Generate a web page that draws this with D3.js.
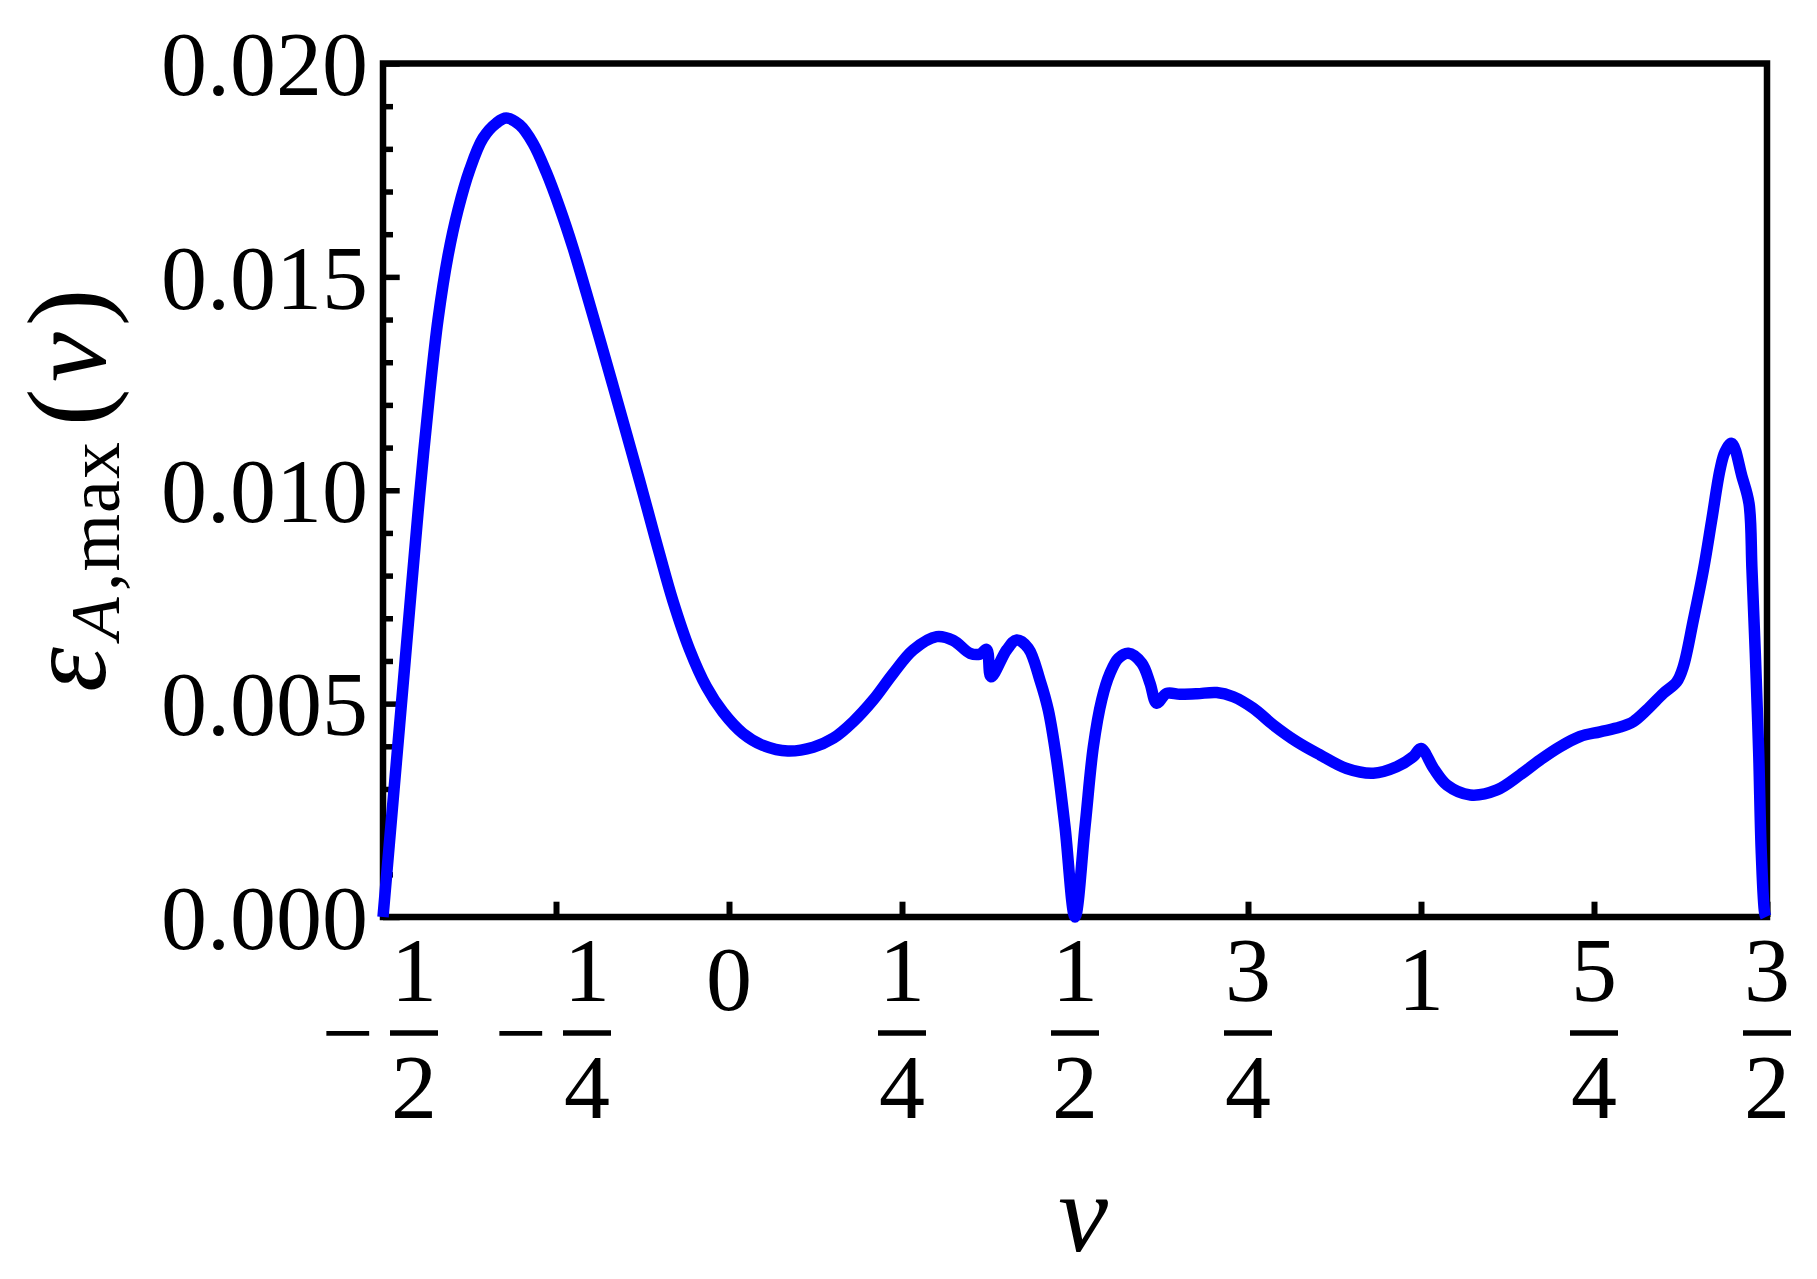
<!DOCTYPE html>
<meta charset="utf-8">
<script src="https://d3js.org/d3.v7.min.js"></script>
<style>
  body { margin: 0; background: #fff; }
  text { font-family: "Liberation Serif", "Times New Roman", serif; fill: #000; }
</style>
<div id="my_dataviz"></div>
<script>
  // curve samples
  var nuValues = [-0.5, -0.492, -0.484, -0.476, -0.468, -0.459, -0.447, -0.4325, -0.4205, -0.406,
    -0.3916, -0.3747, -0.3555, -0.3363, -0.3218, -0.3025, -0.2832, -0.264, -0.2447, -0.2254,
    -0.2062, -0.1869, -0.1676, -0.1484, -0.1291, -0.1195, -0.1002, -0.0809, -0.0568, -0.0328,
    -0.0087, 0.0202, 0.0491, 0.085, 0.1218, 0.1508, 0.1797, 0.2086, 0.2374, 0.2663,
    0.3001, 0.3242, 0.3483, 0.3627, 0.3724, 0.3786, 0.4013, 0.4157, 0.4325, 0.4494,
    0.4614, 0.4735, 0.4855, 0.5, 0.5145, 0.5265, 0.5386, 0.5506, 0.5626, 0.5771,
    0.5964, 0.6084, 0.618, 0.6325, 0.6517, 0.6759, 0.7048, 0.7288, 0.7577, 0.7866,
    0.8204, 0.854, 0.8926, 0.9311, 0.9649, 0.9889, 1.0, 1.0183, 1.0376, 1.0713,
    1.1098, 1.1431, 1.172, 1.2009, 1.2298, 1.2587, 1.2876, 1.3069, 1.3261, 1.3502,
    1.3695, 1.3791, 1.3936, 1.4081, 1.4201, 1.4321, 1.4393, 1.449, 1.4639, 1.474,
    1.4783, 1.4831, 1.488, 1.4918, 1.4966, 1.4985];
  var epsValues = [0, 0.0015, 0.0030, 0.0045, 0.0060, 0.0077, 0.0099, 0.0123, 0.0140, 0.0155,
    0.01657, 0.01751, 0.01825, 0.0186, 0.01872, 0.01856, 0.01813, 0.01745, 0.01662, 0.01568,
    0.01463, 0.01355, 0.01245, 0.01134, 0.01022, 0.00965, 0.0085, 0.0074, 0.00626, 0.0054,
    0.0048, 0.0043, 0.00402, 0.00389, 0.00398, 0.00419, 0.00458, 0.00509, 0.00571, 0.00626,
    0.00657, 0.00648, 0.00618, 0.00616, 0.00627, 0.00563, 0.00626, 0.00649, 0.0063, 0.00555,
    0.00485, 0.00368, 0.00212, 0, 0.00212, 0.00399, 0.00509, 0.00571, 0.00606, 0.00618,
    0.00595, 0.00548, 0.00501, 0.00524, 0.00522, 0.00523, 0.00526, 0.00516, 0.00489, 0.0045,
    0.00411, 0.0038, 0.00348, 0.00337, 0.00352, 0.00376, 0.00395, 0.00348, 0.00309, 0.00286,
    0.00298, 0.00333, 0.00368, 0.00399, 0.00423, 0.00434, 0.00445, 0.00458, 0.00485, 0.00524,
    0.00551, 0.00587, 0.00696, 0.00813, 0.0093, 0.01048, 0.0109, 0.0111, 0.01032, 0.00969,
    0.00813, 0.00618, 0.00384, 0.00149, 0.0001, 0];

  // ticks
  var xTicks = [-0.5, -0.25, 0, 0.25, 0.5, 0.75, 1, 1.25, 1.5];
  var xTickLabels = ["-1/2", "-1/4", "0", "1/4", "1/2", "3/4", "1", "5/4", "3/2"];
  var yTicks = [0, 0.005, 0.010, 0.015, 0.020];
  var yTickLabels = ["0.000", "0.005", "0.010", "0.015", "0.020"];
  var yMinorTicks = d3.range(1, 20).filter(function(i) { return i % 5 != 0; }).map(function(i) { return i / 1000; });

  var W = 1817, H = 1279;
  var pLeft = 383, pRight = 1767, pTop = 63.5, pBottom = 917;

  var svg = d3.select("#my_dataviz").append("svg").attr("width", W).attr("height", H);

  var x = d3.scaleLinear().domain([-0.5, 1.5]).range([pLeft, pRight]);
  var y = d3.scaleLinear().domain([0, 0.02]).range([pBottom, pTop]);

  // y axis, major ticks inward with labels
  var yAx = svg.append("g").attr("transform", "translate(" + pLeft + ",0)")
    .call(d3.axisLeft(y).tickValues(yTicks).tickSize(-16.7).tickPadding(15)
      .tickFormat(function(d, i) { return yTickLabels[i]; }));
  yAx.select(".domain").remove();
  yAx.selectAll("line").attr("stroke", "#000").attr("stroke-width", 5.5);
  yAx.selectAll("text").attr("font-size", 92).attr("dy", "0.34em")
    .style("font-family", '"Liberation Serif", "Times New Roman", serif');

  // y minor ticks
  var yMin = svg.append("g").attr("transform", "translate(" + pLeft + ",0)")
    .call(d3.axisLeft(y).tickValues(yMinorTicks).tickSize(-10).tickFormat(""));
  yMin.select(".domain").remove();
  yMin.selectAll("line").attr("stroke", "#000").attr("stroke-width", 5.5);

  // x axis ticks inward
  var xAx = svg.append("g").attr("transform", "translate(0," + pBottom + ")")
    .call(d3.axisBottom(x).tickValues(xTicks).tickSize(-15.3).tickFormat(""));
  xAx.select(".domain").remove();
  xAx.selectAll("line").attr("stroke", "#000").attr("stroke-width", 6);

  // x tick labels (integers and stacked fractions)
  var lab = svg.append("g");
  xTicks.forEach(function(t, i) {
    var s = xTickLabels[i];
    var cx = x(t);
    if (s.indexOf("/") < 0) {
      lab.append("text").attr("x", cx).attr("y", 1010).attr("text-anchor", "middle")
        .attr("font-size", 92).text(s);
      return;
    }
    var neg = s.charAt(0) == "-";
    var parts = s.replace("-", "").split("/");
    var fc = cx;
    if (neg) {
      fc = cx + 31;
      lab.append("text").attr("x", cx - 35).attr("y", 1064).attr("text-anchor", "middle")
        .attr("font-size", 92).text("\u2212");
    }
    lab.append("text").attr("x", fc).attr("y", 1001).attr("text-anchor", "middle")
      .attr("font-size", 92).text(parts[0]);
    lab.append("line").attr("x1", fc - 24).attr("x2", fc + 24).attr("y1", 1033).attr("y2", 1033)
      .attr("stroke", "#000").attr("stroke-width", 5.5);
    lab.append("text").attr("x", fc).attr("y", 1118).attr("text-anchor", "middle")
      .attr("font-size", 92).text(parts[1]);
  });

  // frame
  svg.append("rect").attr("x", pLeft).attr("y", pTop).attr("width", pRight - pLeft).attr("height", pBottom - pTop)
    .attr("fill", "none").attr("stroke", "#000").attr("stroke-width", 6.5);

  // curve
  var pts = nuValues.map(function(d, i) { return [d, epsValues[i]]; });
  var line = d3.line().x(function(d) { return x(d[0]); }).y(function(d) { return y(d[1]); })
    .curve(d3.curveCatmullRom.alpha(0.5));
  svg.append("path").datum(pts).attr("d", line).attr("fill", "none")
    .attr("stroke", "#0000ff").attr("stroke-width", 11.5).attr("stroke-linejoin", "round");

  // axis labels
  svg.append("text").attr("x", 1083).attr("y", 1251).attr("text-anchor", "middle")
    .attr("font-size", 112).attr("font-style", "italic").text("\u03bd");

  var yl = svg.append("g").attr("transform", "translate(105," + 494 + ") rotate(-90)");
  yl.append("text").attr("x", -198).attr("y", 0).attr("font-size", 114).attr("font-style", "italic").text("\u03b5");
  yl.append("text").attr("x", -146).attr("y", 14).attr("font-size", 70).attr("font-style", "italic").text("A");
  yl.append("text").attr("x", -97).attr("y", 14).attr("font-size", 74).attr("letter-spacing", 1).text(",max");
  yl.append("text").attr("x", 68).attr("y", 0).attr("font-size", 112).text("(");
  yl.append("text").attr("x", 112).attr("y", 0).attr("font-size", 112).attr("font-style", "italic").text("\u03bd");
  yl.append("text").attr("x", 168).attr("y", 0).attr("font-size", 112).text(")");
</script>
